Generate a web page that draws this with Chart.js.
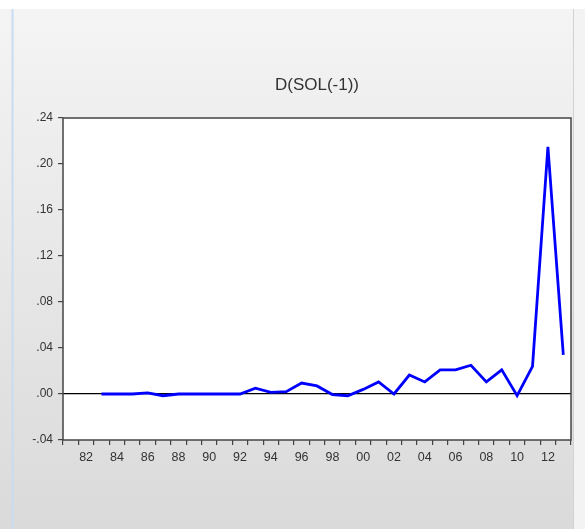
<!DOCTYPE html>
<html>
<head>
<meta charset="utf-8">
<script src="https://cdn.jsdelivr.net/npm/chart.js@4/dist/chart.umd.min.js"></script>
<style>
  html, body { margin: 0; padding: 0; background: #fff; }
  #wrap { width: 585px; height: 529px; }
</style>
</head>
<body>
<div id="wrap"><canvas id="chart" width="585" height="529"></canvas></div>
<script>
// Series data (annual)
const years = ['1981','1982','1983','1984','1985','1986','1987','1988','1989','1990',
               '1991','1992','1993','1994','1995','1996','1997','1998','1999','2000',
               '2001','2002','2003','2004','2005','2006','2007','2008','2009','2010',
               '2011','2012','2013'];
const tickLabels = ['','82','','84','','86','','88','','90',
                    '','92','','94','','96','','98','','00',
                    '','02','','04','','06','','08','','10',
                    '','12',''];
const dSol = [null, null, 0.000, 0.000, 0.000, 0.001, -0.0015, 0.000, 0.000, 0.000,
              0.000, 0.000, 0.005, 0.0015, 0.002, 0.0095, 0.007, -0.0005, -0.0015, 0.004,
              0.0105, 0.000, 0.0165, 0.0105, 0.021, 0.021, 0.025, 0.0105, 0.021, -0.0015,
              0.024, 0.215, 0.034];
const chartTitle = 'D(SOL(-1))';

const FONT = '"Liberation Sans", Arial, sans-serif';
const TEXT = '#333';

// Window background, white plot box and frame, title
const frame = {
    id: 'frame',
    beforeDraw(chart) {
        const ctx = chart.ctx;
        const a = chart.chartArea;
        ctx.save();
        ctx.fillStyle = '#fff';
        ctx.fillRect(0, 0, chart.width, chart.height);
        const g = ctx.createLinearGradient(0, 9, 0, chart.height);
        g.addColorStop(0, '#f4f4f4');
        g.addColorStop(1, '#dadada');
        ctx.fillStyle = g;
        ctx.fillRect(0, 9, chart.width, chart.height - 9);
        // light blue edge on the left
        ctx.fillStyle = '#c8dcf3';
        ctx.fillRect(11.5, 9, 2, chart.height - 9);
        // right edge of the panel
        ctx.fillStyle = '#d2d2d2';
        ctx.fillRect(573, 9, 1, chart.height - 9);
        ctx.fillStyle = '#f3f3f3';
        ctx.fillRect(574, 9, chart.width - 574, chart.height - 9);
        // plot box
        ctx.fillStyle = '#fff';
        ctx.fillRect(a.left, a.top, a.right - a.left, a.bottom - a.top);
        ctx.restore();
    },
    afterDraw(chart) {
        const ctx = chart.ctx;
        const a = chart.chartArea;
        ctx.save();
        ctx.strokeStyle = '#444';
        ctx.lineWidth = 1.5;
        ctx.strokeRect(a.left, a.top, a.right - a.left, a.bottom - a.top);
        ctx.fillStyle = TEXT;
        ctx.font = '17px ' + FONT;
        ctx.textAlign = 'center';
        ctx.textBaseline = 'middle';
        ctx.fillText(chartTitle, (a.left + a.right) / 2, 85);
        ctx.restore();
    }
};

new Chart(document.getElementById('chart'), {
    type: 'line',
    data: {
        labels: years,
        datasets: [{
            label: chartTitle,
            data: dSol,
            borderColor: '#0000ff',
            borderWidth: 2.8,
            pointRadius: 0,
            tension: 0,
            spanGaps: false
        }]
    },
    options: {
        responsive: false,
        devicePixelRatio: 1,
        animation: false,
        layout: { padding: { top: 118, right: 14, bottom: 0, left: 0 } },
        plugins: {
            legend: { display: false },
            title: { display: false },
            tooltip: { enabled: false }
        },
        scales: {
            x: {
                offset: true,
                afterFit: s => { s.height = 89; },
                grid: {
                    offset: true,
                    drawOnChartArea: false,
                    tickLength: 5,
                    tickColor: '#444',
                    lineWidth: 1.2
                },
                border: { display: false },
                ticks: {
                    autoSkip: false,
                    maxRotation: 0,
                    padding: 5,
                    color: TEXT,
                    font: { family: FONT, size: 12.5 },
                    callback: (v, i) => tickLabels[i]
                }
            },
            y: {
                min: -0.04,
                max: 0.24,
                afterFit: s => { s.width = 63; },
                grid: {
                    drawOnChartArea: true,
                    tickLength: 5,
                    tickColor: '#444',
                    color: c => (c.tick && Math.abs(c.tick.value) < 1e-9) ? '#000' : 'rgba(0,0,0,0)',
                    lineWidth: 1.2
                },
                border: { display: false },
                ticks: {
                    stepSize: 0.04,
                    padding: 5,
                    color: TEXT,
                    font: { family: FONT, size: 12 },
                    callback: v => {
                        const s = (Math.round(v * 100) / 100).toFixed(2);
                        return s.replace('0.', '.');
                    }
                }
            }
        }
    },
    plugins: [frame]
});
</script>
</body>
</html>
